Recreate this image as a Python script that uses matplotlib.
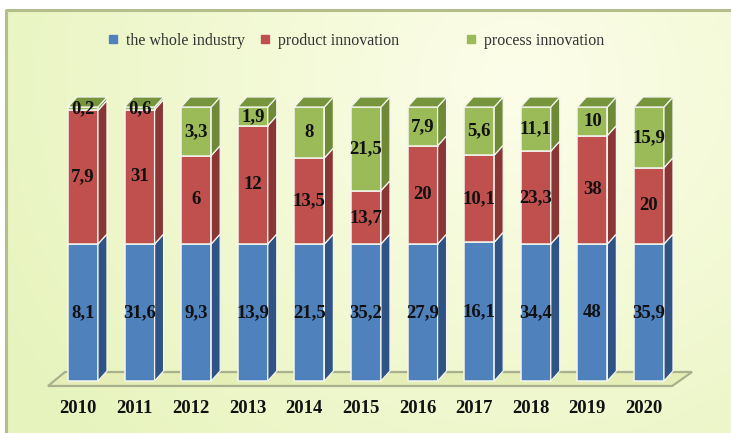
import numpy as np
import matplotlib
matplotlib.use("Agg")
import matplotlib.pyplot as plt
from matplotlib.patches import Polygon, Rectangle
from matplotlib.lines import Line2D
import matplotlib.transforms as mtransforms

plt.rcParams['font.family'] = ['Liberation Serif', 'DejaVu Serif']

years = ['2010', '2011', '2012', '2013', '2014', '2015', '2016', '2017', '2018', '2019', '2020']
whole_industry = [8.1, 31.6, 9.3, 13.9, 21.5, 35.2, 27.9, 16.1, 34.4, 48, 35.9]
product_innov = [7.9, 31, 6, 12, 13.5, 13.7, 20, 10.1, 23.3, 38, 20]
process_innov = [0.2, 0.6, 3.3, 1.9, 8, 21.5, 7.9, 5.6, 11.1, 10, 15.9]
series_names = ['the whole industry', 'product innovation', 'process innovation']

front_cols = ['#4f81bd', '#c0504d', '#9bbb59']
side_cols = ['#2f5385', '#8a3634', '#6e8a36']
top_col = '#76953d'

W, H = 731, 433
fig = plt.figure(figsize=(W / 100, H / 100), dpi=100)

# background panel with soft gradient
bg = fig.add_axes([0, 0, 1, 1])
bg.set_xlim(0, W)
bg.set_ylim(H, 0)
bg.axis('off')
yy, xx = np.mgrid[0:H, 0:W]
d = np.clip(np.hypot(xx - 520, (yy - 80) * 1.1) / 600, 0, 1)
c0 = np.array([0.99, 0.995, 0.915])
c1 = np.array([0.905, 0.955, 0.74])
img = c0[None, None, :] * (1 - d[..., None]) + c1[None, None, :] * d[..., None]
bg.imshow(img, extent=(0, W, H, 0), aspect='auto', zorder=0)
bg.add_patch(Rectangle((0, 0), W, 10, color='white', zorder=1))
bg.add_patch(Rectangle((0, 0), 6, H, color='white', zorder=1))
bg.plot([6, 6, W], [H, 10, 10], color='#b4be8c', lw=2.2, zorder=2)

ax = fig.add_axes([0, 0, 1, 1])
ax.patch.set_alpha(0)
ax.set_xlim(-1.466, 11.449)
ax.set_ylim(-18.98, 139.05)
ax.axis('off')

# floor slab
floor = Polygon([(-0.618, -1.82), (-0.318, 3.28), (10.76, 3.28), (10.41, -1.82)],
                closed=True, facecolor='#e4eeb6', edgecolor='#a9b08e', lw=1.6, zorder=1)
ax.add_patch(floor)

idx = np.arange(len(years))
data = np.array([whole_industry, product_innov, process_innov], dtype=float)
pct = data / data.sum(axis=0) * 100

bw = 0.53
dx, dy = 0.159, 3.65
bottom = np.zeros(len(years))
for s in range(3):
    ax.bar(idx, pct[s], bottom=bottom, width=bw, color=front_cols[s],
           edgecolor='#f4f6ee', linewidth=1.1, zorder=3)
    for i in idx:
        b, h = bottom[i], pct[s][i]
        xr = i + bw / 2
        ax.add_patch(Polygon([(xr, b), (xr + dx, b + dy), (xr + dx, b + h + dy), (xr, b + h)],
                             closed=True, facecolor=side_cols[s], edgecolor='#f4f6ee',
                             lw=0.9, zorder=3))
        lab = ('%g' % data[s][i]).replace('.', ',')
        ax.text(i, b + h / 2, lab, ha='center', va='center', fontsize=13.5,
                fontweight='bold', color='#111111', zorder=5)
    bottom += pct[s]

for i in idx:
    t = bottom[i]
    xl, xr = i - bw / 2, i + bw / 2
    ax.add_patch(Polygon([(xl, t), (xl + dx, t + dy), (xr + dx, t + dy), (xr, t)],
                         closed=True, facecolor=top_col, edgecolor='#f4f6ee', lw=0.9, zorder=4))

offset = mtransforms.offset_copy(ax.transData, fig=fig, x=-5, y=0, units='dots')
for i, yr in zip(idx, years):
    ax.text(i, -10.2, yr, ha='center', va='center', fontsize=13.5, fontweight='bold',
            color='#111111', transform=offset)

# legend entries
leg_x = [117, 269, 475]
for s in range(3):
    h = Line2D([], [], marker='s', ls='none', markersize=5.5, color=front_cols[s])
    fig.legend(handles=[h], labels=[series_names[s]], loc='center left',
               bbox_to_anchor=((leg_x[s] - 12) / W, 1 - 41 / H), frameon=False,
               fontsize=11.5, handlelength=1.0, handletextpad=0.3, borderpad=0,
               borderaxespad=0, labelcolor='#333333')

fig.savefig('out.png', dpi=100)
